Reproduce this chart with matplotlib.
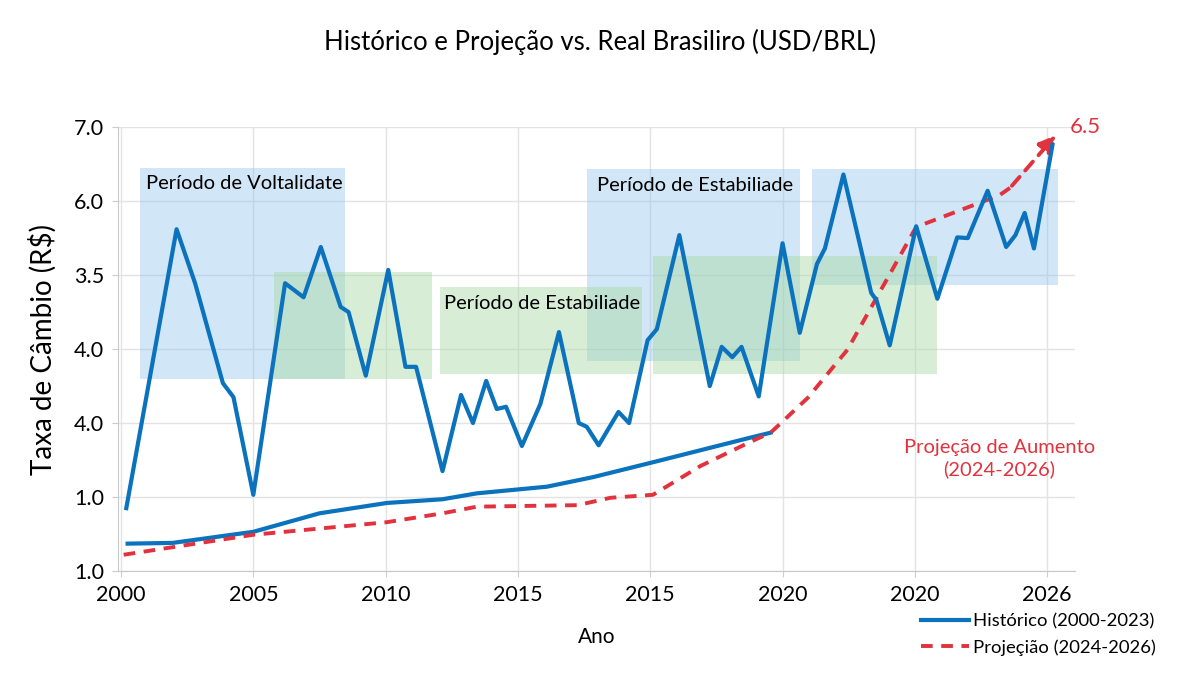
import matplotlib.pyplot as plt
from matplotlib.patches import Rectangle

plt.rcParams['font.family'] = ['Lato', 'DejaVu Sans']

# tick labels as printed on the original (positions are evenly spaced)
x_labels = ['2000', '2005', '2010', '2015', '2015', '2020', '2020', '2026']
y_labels = ['1.0', '1.0', '4.0', '4.0', '3.5', '6.0', '7.0']

# volatile historical series (x in tick units, y in tick units)
hist_x = [0.04, 0.42, 0.56, 0.77, 0.85, 1.00, 1.24, 1.38, 1.51, 1.66, 1.72, 1.85,
          2.02, 2.15, 2.23, 2.43, 2.57, 2.66, 2.76, 2.84, 2.91, 3.03, 3.17, 3.31,
          3.46, 3.52, 3.61, 3.76, 3.84, 3.98, 4.05, 4.22, 4.45, 4.54, 4.62, 4.69,
          4.82, 5.00, 5.13, 5.26, 5.32, 5.46, 5.67, 5.71, 5.81, 6.01, 6.17, 6.32,
          6.40, 6.55, 6.69, 6.76, 6.83, 6.90, 7.04]
hist_y = [0.85, 4.62, 3.89, 2.54, 2.35, 1.03, 3.89, 3.70, 4.38, 3.57, 3.50, 2.64,
          4.07, 2.76, 2.76, 1.35, 2.38, 2.00, 2.57, 2.19, 2.22, 1.69, 2.26, 3.23,
          2.00, 1.95, 1.70, 2.15, 2.00, 3.12, 3.27, 4.54, 2.50, 3.03, 2.89, 3.03,
          2.36, 4.43, 3.22, 4.15, 4.36, 5.36, 3.76, 3.66, 3.05, 4.66, 3.68, 4.51,
          4.50, 5.14, 4.38, 4.54, 4.84, 4.36, 5.76]

# smooth historical trend
trend_x = [0.05, 0.39, 1.00, 1.50, 2.01, 2.43, 2.69, 3.22, 3.57, 4.02, 4.75, 4.91]
trend_y = [0.37, 0.38, 0.53, 0.78, 0.92, 0.97, 1.05, 1.14, 1.27, 1.47, 1.80, 1.87]

# projection (dashed)
proj_x = [0.02, 1.00, 2.01, 2.43, 2.69, 3.45, 3.70, 4.02, 4.38, 4.75, 4.91, 5.19,
          5.49, 6.01, 6.64, 6.72, 7.08]
proj_y = [0.22, 0.49, 0.66, 0.78, 0.87, 0.89, 0.99, 1.03, 1.42, 1.74, 1.87, 2.34,
          2.99, 4.65, 5.08, 5.18, 5.92]

# shaded periods: (x0, x1, y0, y1, kind)
periods = [
    (0.14, 1.69, 2.60, 5.45, 'blue'),
    (3.52, 5.13, 2.84, 5.43, 'blue'),
    (5.22, 7.08, 3.87, 5.43, 'blue'),
    (1.16, 2.35, 2.60, 4.04, 'green'),
    (2.41, 3.94, 2.66, 3.84, 'green'),
    (4.02, 6.17, 2.66, 4.26, 'green'),
]

blue = '#0b72bd'
red = '#e1323d'

fig = plt.figure(figsize=(12, 6.85), dpi=100)
ax = fig.add_axes([0.0983, 0.1664, 0.7975, 0.648])

for x0, x1, y0, y1, kind in periods:
    fc = '#8cc2ea' if kind == 'blue' else '#a9d9a4'
    ax.add_patch(Rectangle((x0, y0), x1 - x0, y1 - y0, facecolor=fc,
                           alpha=0.4 if kind == 'blue' else 0.45,
                           edgecolor='none', zorder=1))

ax.plot(trend_x, trend_y, color=blue, lw=3, zorder=3)
ax.plot(proj_x[:-1], proj_y[:-1], color=red, lw=2.8, ls=(0, (3, 2.2)), zorder=4)
ax.annotate('', xy=(proj_x[-1], proj_y[-1]), xytext=(proj_x[-2], proj_y[-2]),
            arrowprops=dict(arrowstyle='-|>', color=red, lw=2.8, ls=(0, (3, 2.2)),
                            mutation_scale=25), zorder=4)
ax.plot(hist_x, hist_y, color=blue, lw=3, zorder=5)

ax.text(0.19, 5.24, 'Período de Voltalidate', fontsize=14.5, va='center', zorder=6)
ax.text(2.44, 3.61, 'Período de Estabiliade', fontsize=14.5, va='center', zorder=6)
ax.text(3.60, 5.21, 'Período de Estabiliade', fontsize=14.5, va='center', zorder=6)
ax.text(7.17, 6.0, '6.5', fontsize=16, color=red, va='center')
ax.text(6.64, 1.52, 'Projeção de Aumento\n(2024-2026)', fontsize=14.5, color=red,
        ha='center', va='center', linespacing=1.35)

ax.set_xlim(-0.023, 7.21)
ax.set_ylim(0, 6)
ax.set_xticks(range(len(x_labels)))
ax.set_xticklabels(x_labels)
ax.set_yticks(range(len(y_labels)))
ax.set_yticklabels(y_labels)
ax.tick_params(labelsize=15.5, length=4, color='#cccccc', pad=6)
ax.grid(color='#e3e3e3', lw=1)
ax.set_axisbelow(True)
for s in ['top', 'right']:
    ax.spines[s].set_visible(False)
for s in ['left', 'bottom']:
    ax.spines[s].set_color('#c8c8c8')

ax.set_xlabel('Ano', fontsize=15, labelpad=16)
ax.set_ylabel('Taxa de Câmbio (R$)', fontsize=20, labelpad=12)
fig.suptitle('Histórico e Projeção vs. Real Brasiliro (USD/BRL)', fontsize=18.5,
             x=0.5, y=0.958)

h1, = ax.plot([], [], color=blue, lw=3)
h2, = ax.plot([], [], color=red, lw=2.8, ls=(0, (3, 2.2)))
fig.legend([h1, h2], ['Histórico (2000-2023)', 'Projeçião (2024-2026)'],
           loc='upper left', bbox_to_anchor=(0.761, 0.115), frameon=False,
           fontsize=13.3, handlelength=2.6, handletextpad=0.25, labelspacing=0.5,
           borderaxespad=0)

fig.savefig('out.png', dpi=100)
